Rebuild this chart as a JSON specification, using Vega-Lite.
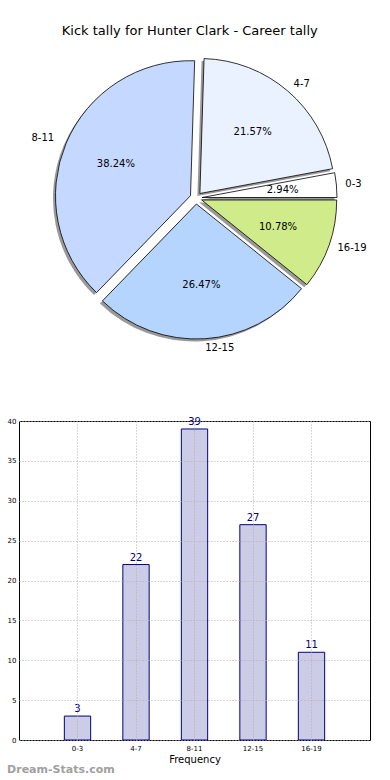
{
  "$schema": "https://vega.github.io/schema/vega-lite/v6.json",
  "padding": {"left": 6, "top": 25, "right": 0, "bottom": 0},
  "spacing": 59,
  "title": {"text": "Kick tally for Hunter Clark - Career tally", "fontSize": 13, "font": "DejaVu Sans", "fontWeight": "normal", "color": "#000", "anchor": "middle", "offset": 10},
  "datasets": {
    "kicks": [
      {"cat": "0-3", "lo": 0, "count": 3, "pct": "2.94%"},
      {"cat": "4-7", "lo": 4, "count": 22, "pct": "21.57%"},
      {"cat": "8-11", "lo": 8, "count": 39, "pct": "38.24%"},
      {"cat": "12-15", "lo": 12, "count": 27, "pct": "26.47%"},
      {"cat": "16-19", "lo": 16, "count": 11, "pct": "10.78%"}
    ]
  },
  "vconcat": [
    {
      "width": 354,
      "height": 300,
      "view": {"stroke": null},
      "layer": [
        {"data": {"name": "kicks"}, "transform": [{"stack": "count", "groupby": [], "sort": [{"field": "lo"}], "as": ["t0", "t1"]}, {"filter": "datum.cat === '0-3'"}],
         "mark": {"type": "arc", "outerRadius": 135, "fill": "#333333", "opacity": 0.5, "xOffset": 3.5, "yOffset": 2.0},
         "encoding": {"theta": {"field": "t0", "type": "quantitative", "scale": {"domain": [0, 102], "range": [1.5708, -4.7124]}}, "theta2": {"field": "t1"}}},
        {"data": {"name": "kicks"}, "transform": [{"stack": "count", "groupby": [], "sort": [{"field": "lo"}], "as": ["t0", "t1"]}, {"filter": "datum.cat === '4-7'"}],
         "mark": {"type": "arc", "outerRadius": 135, "fill": "#333333", "opacity": 0.5, "xOffset": 1.4, "yOffset": -2.0},
         "encoding": {"theta": {"field": "t0", "type": "quantitative"}, "theta2": {"field": "t1"}}},
        {"data": {"name": "kicks"}, "transform": [{"stack": "count", "groupby": [], "sort": [{"field": "lo"}], "as": ["t0", "t1"]}, {"filter": "datum.cat === '8-11'"}],
         "mark": {"type": "arc", "outerRadius": 135, "fill": "#333333", "opacity": 0.5, "xOffset": -8.0, "yOffset": 0.2},
         "encoding": {"theta": {"field": "t0", "type": "quantitative"}, "theta2": {"field": "t1"}}},
        {"data": {"name": "kicks"}, "transform": [{"stack": "count", "groupby": [], "sort": [{"field": "lo"}], "as": ["t0", "t1"]}, {"filter": "datum.cat === '12-15'"}],
         "mark": {"type": "arc", "outerRadius": 135, "fill": "#333333", "opacity": 0.5, "xOffset": -2.1, "yOffset": 8.5},
         "encoding": {"theta": {"field": "t0", "type": "quantitative"}, "theta2": {"field": "t1"}}},
        {"data": {"name": "kicks"}, "transform": [{"stack": "count", "groupby": [], "sort": [{"field": "lo"}], "as": ["t0", "t1"]}, {"filter": "datum.cat === '16-19'"}],
         "mark": {"type": "arc", "outerRadius": 135, "fill": "#333333", "opacity": 0.5, "xOffset": 3.2, "yOffset": 4.5},
         "encoding": {"theta": {"field": "t0", "type": "quantitative"}, "theta2": {"field": "t1"}}},

        {"data": {"name": "kicks"}, "transform": [{"stack": "count", "groupby": [], "sort": [{"field": "lo"}], "as": ["t0", "t1"]}, {"filter": "datum.cat === '0-3'"}],
         "mark": {"type": "arc", "outerRadius": 135, "fill": "#ffffff", "stroke": "#000000", "strokeWidth": 0.8, "xOffset": 6.0, "yOffset": -0.5},
         "encoding": {"theta": {"field": "t0", "type": "quantitative"}, "theta2": {"field": "t1"}}},
        {"data": {"name": "kicks"}, "transform": [{"stack": "count", "groupby": [], "sort": [{"field": "lo"}], "as": ["t0", "t1"]}, {"filter": "datum.cat === '4-7'"}],
         "mark": {"type": "arc", "outerRadius": 135, "fill": "#eaf2ff", "stroke": "#000000", "strokeWidth": 0.8, "xOffset": 3.9, "yOffset": -4.5},
         "encoding": {"theta": {"field": "t0", "type": "quantitative"}, "theta2": {"field": "t1"}}},
        {"data": {"name": "kicks"}, "transform": [{"stack": "count", "groupby": [], "sort": [{"field": "lo"}], "as": ["t0", "t1"]}, {"filter": "datum.cat === '8-11'"}],
         "mark": {"type": "arc", "outerRadius": 135, "fill": "#c5d8ff", "stroke": "#000000", "strokeWidth": 0.8, "xOffset": -5.5, "yOffset": -2.3},
         "encoding": {"theta": {"field": "t0", "type": "quantitative"}, "theta2": {"field": "t1"}}},
        {"data": {"name": "kicks"}, "transform": [{"stack": "count", "groupby": [], "sort": [{"field": "lo"}], "as": ["t0", "t1"]}, {"filter": "datum.cat === '12-15'"}],
         "mark": {"type": "arc", "outerRadius": 135, "fill": "#b5d5ff", "stroke": "#000000", "strokeWidth": 0.8, "xOffset": 0.4, "yOffset": 6.0},
         "encoding": {"theta": {"field": "t0", "type": "quantitative"}, "theta2": {"field": "t1"}}},
        {"data": {"name": "kicks"}, "transform": [{"stack": "count", "groupby": [], "sort": [{"field": "lo"}], "as": ["t0", "t1"]}, {"filter": "datum.cat === '16-19'"}],
         "mark": {"type": "arc", "outerRadius": 135, "fill": "#cfeb8a", "stroke": "#000000", "strokeWidth": 0.8, "xOffset": 5.7, "yOffset": 2.0},
         "encoding": {"theta": {"field": "t0", "type": "quantitative"}, "theta2": {"field": "t1"}}},

        {"data": {"name": "kicks"},
         "mark": {"type": "text", "radius": 87, "fontSize": 10, "font": "DejaVu Sans", "color": "#000", "align": "center", "baseline": "middle"},
         "encoding": {"theta": {"field": "count", "type": "quantitative", "stack": true}, "order": {"field": "lo", "type": "quantitative"}, "text": {"field": "pct"}}},
        {"data": {"name": "kicks"},
         "mark": {"type": "text", "radius": 150, "fontSize": 10, "font": "DejaVu Sans", "color": "#000", "align": "left", "baseline": "middle"},
         "encoding": {"theta": {"field": "count", "type": "quantitative", "stack": true}, "order": {"field": "lo", "type": "quantitative"}, "text": {"condition": {"test": "datum.cat !== '8-11'", "field": "cat"}, "value": ""}}},
        {"data": {"name": "kicks"},
         "mark": {"type": "text", "radius": 154, "fontSize": 10, "font": "DejaVu Sans", "color": "#000", "align": "right", "baseline": "middle"},
         "encoding": {"theta": {"field": "count", "type": "quantitative", "stack": true}, "order": {"field": "lo", "type": "quantitative"}, "text": {"condition": {"test": "datum.cat === '8-11'", "field": "cat"}, "value": ""}}}
      ]
    },
    {
      "width": 351,
      "height": 319,
      "view": {"stroke": "#000000", "strokeWidth": 1},
      "title": {"text": "Dream-Stats.com", "orient": "bottom", "anchor": "start", "frame": "bounds", "fontSize": 11, "fontWeight": "bold", "font": "DejaVu Sans", "color": "#a0a0a0", "offset": 0},
      "data": {"name": "kicks"},
      "encoding": {
        "x": {"field": "cat", "type": "nominal", "sort": ["0-3", "4-7", "8-11", "12-15", "16-19"],
              "scale": {"paddingInner": 0.55, "paddingOuter": 0.775},
              "axis": {"title": "Frequency", "titleFontSize": 10, "titleFont": "DejaVu Sans", "titleFontWeight": "normal", "titleColor": "#000", "titlePadding": 3,
                       "labelFontSize": 7, "labelFont": "DejaVu Sans", "labelColor": "#000", "labelAngle": 0, "labelPadding": 4,
                       "ticks": false, "domain": false, "grid": true, "gridColor": "#b0b0b0", "gridDash": [1, 2], "bandPosition": 0.5, "zindex": 1}},
        "y": {"field": "count", "type": "quantitative", "scale": {"domain": [0, 40], "nice": false},
              "axis": {"title": null, "values": [0, 5, 10, 15, 20, 25, 30, 35, 40], "labelFontSize": 7, "labelFont": "DejaVu Sans", "labelColor": "#000",
                       "ticks": false, "domain": false, "labelPadding": 3, "grid": true, "gridColor": "#b0b0b0", "gridDash": [1, 2], "zindex": 1}}
      },
      "layer": [
        {"mark": {"type": "bar", "fill": "#cccce6", "stroke": "#000080", "strokeWidth": 1}},
        {"mark": {"type": "text", "dy": -7, "fontSize": 10, "font": "DejaVu Sans", "color": "#000080"}, "encoding": {"text": {"field": "count", "type": "quantitative"}}}
      ]
    }
  ]
}
